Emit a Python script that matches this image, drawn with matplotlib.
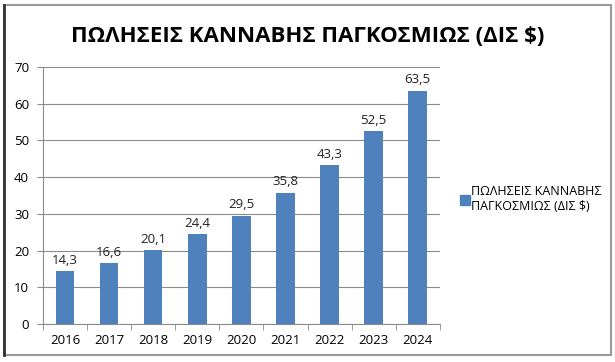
import matplotlib as mpl
mpl.use('Agg')
import matplotlib.pyplot as plt
from matplotlib.patches import Rectangle
from matplotlib.lines import Line2D

years = ['2016', '2017', '2018', '2019', '2020', '2021', '2022', '2023', '2024']
sales = [14.3, 16.6, 20.1, 24.4, 29.5, 35.8, 43.3, 52.5, 63.5]
labels = ['14,3', '16,6', '20,1', '24,4', '29,5', '35,8', '43,3', '52,5', '63,5']
title = 'ΠΩΛΗΣΕΙΣ ΚΑΝΝΑΒΗΣ ΠΑΓΚΟΣΜΙΩΣ (ΔΙΣ $)'
series_name = 'ΠΩΛΗΣΕΙΣ ΚΑΝΝΑΒΗΣ\nΠΑΓΚΟΣΜΙΩΣ (ΔΙΣ $)'

plt.rcParams['font.family'] = ['Open Sans', 'DejaVu Sans']
blue = '#4f81bd'

fig = plt.figure(figsize=(6.15, 3.62), dpi=100)
ax = fig.add_axes([0.070, 0.105, 0.645, 0.71])

x = list(range(len(years)))
ax.bar(x, sales, width=0.42, color=blue, zorder=3)
for xi, v, s in zip(x, sales, labels):
    ax.text(xi, v + 1.2, s, ha='center', va='bottom', fontsize=9.5, color='#222222')

ax.set_xlim(-0.5, len(years) - 0.5)
ax.set_ylim(0, 70)
ax.set_yticks(range(0, 71, 10))
ax.yaxis.grid(True, color='#8c8c8c', linewidth=0.8, zorder=0)
ax.set_xticks(x)
ax.set_xticklabels(years, fontsize=9.5)
ax.set_xticks([i - 0.5 for i in range(len(years) + 1)], minor=True)
ax.tick_params(axis='x', which='major', length=0, pad=7)
ax.tick_params(axis='x', which='minor', length=4, color='#8c8c8c')
ax.tick_params(axis='y', length=4, color='#8c8c8c', labelsize=9.5, pad=6)
for side in ['top', 'right']:
    ax.spines[side].set_visible(False)
ax.spines['left'].set_color('#8c8c8c')
ax.spines['bottom'].set_color('#8c8c8c')

fig.text(0.5, 0.9, title, ha='center', va='center', fontsize=16, fontweight='bold')

handle = Line2D([], [], marker='s', linestyle='none', markersize=6.5, color=blue)
fig.legend([handle], [series_name], loc='center left', bbox_to_anchor=(0.73, 0.45),
           frameon=False, fontsize=9, handletextpad=0.05, handlelength=0.8)

fig.patches.append(Rectangle((0.006, 0.02), 0.988, 0.965, transform=fig.transFigure,
                             fill=False, edgecolor='#9a9a9a', linewidth=1.5))
fig.add_artist(Line2D([0.006, 0.006], [0.02, 0.985], transform=fig.transFigure,
                      color='#333333', linewidth=2))

plt.savefig('out.png')
